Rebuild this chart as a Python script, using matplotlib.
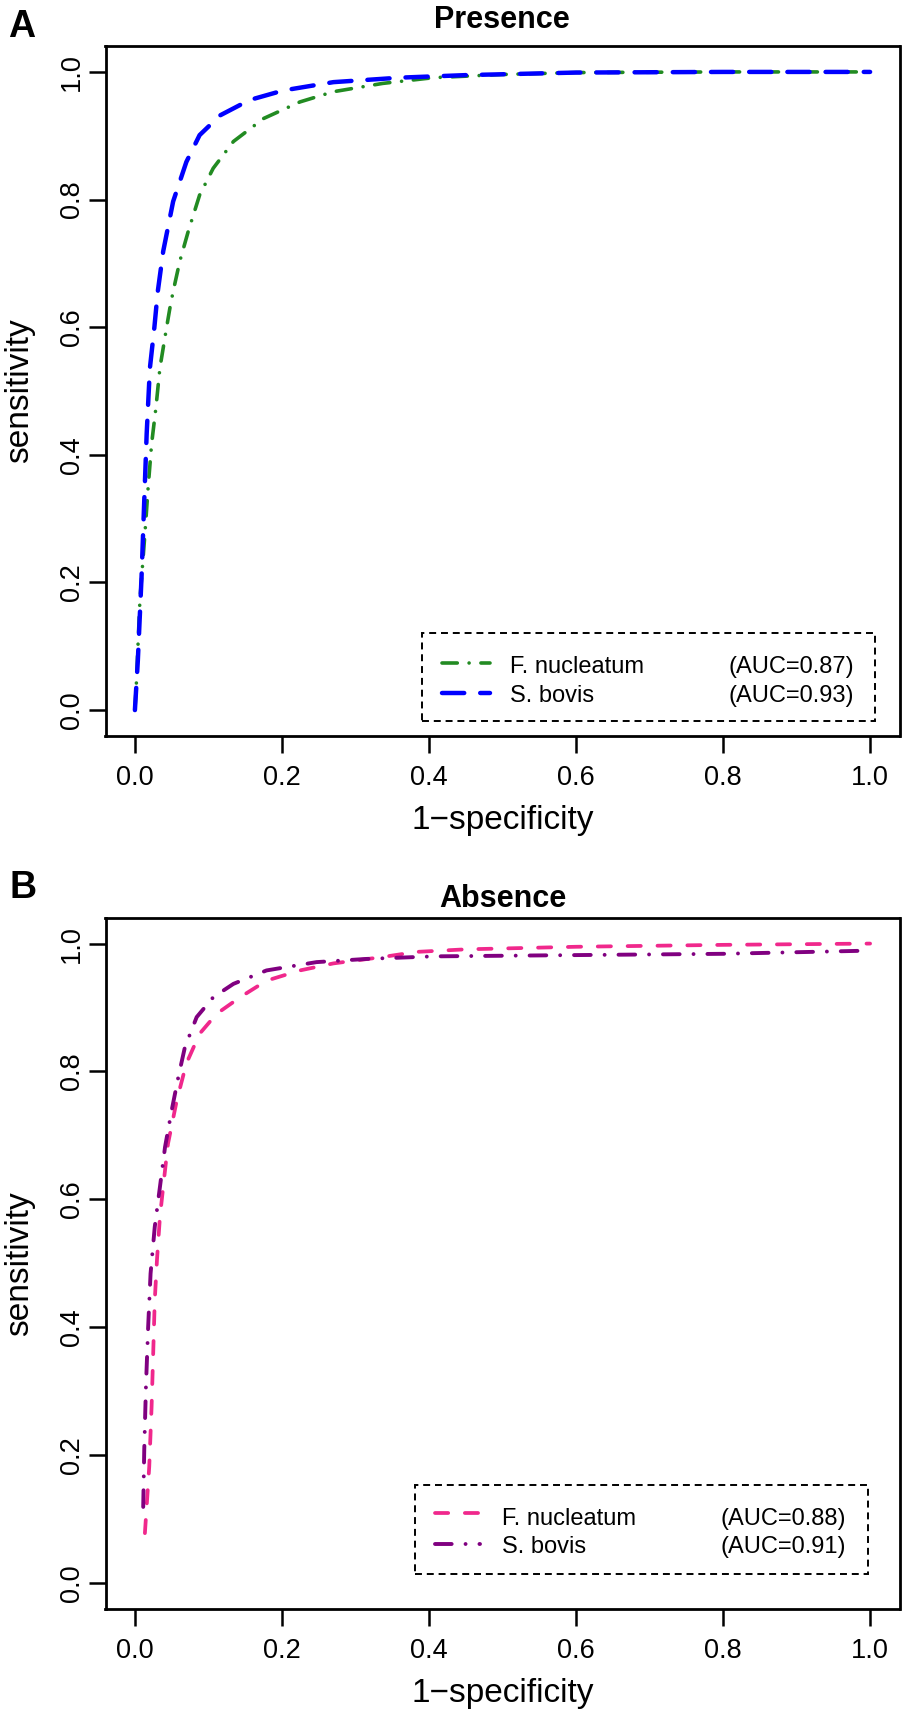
import matplotlib
matplotlib.use('Agg')
from matplotlib import pyplot as plt
from matplotlib.patches import Rectangle
from matplotlib.lines import Line2D

# presence panel
pres_fn_x = [0, 0.002, 0.0068, 0.0136, 0.018, 0.0227, 0.0286, 0.034, 0.043, 0.0476, 0.052, 0.061,
             0.0725, 0.088, 0.1065, 0.134, 0.175, 0.2245, 0.27, 0.337, 0.406, 0.5, 0.6, 0.8, 1.0]
pres_fn_y = [0, 0.042, 0.172, 0.276, 0.349, 0.417, 0.474, 0.536, 0.599, 0.63, 0.656, 0.703,
             0.75, 0.807, 0.849, 0.891, 0.927, 0.953, 0.969, 0.982, 0.991, 0.996, 0.999, 1.0, 1.0]
pres_sb_x = [0, 0.004, 0.009, 0.0127, 0.016, 0.0204, 0.0265, 0.031, 0.0385, 0.052, 0.070, 0.088,
             0.116, 0.156, 0.202, 0.27, 0.36, 0.45, 0.6, 0.8, 1.0]
pres_sb_y = [0, 0.078, 0.208, 0.328, 0.433, 0.536, 0.600, 0.655, 0.719, 0.797, 0.859, 0.901,
             0.932, 0.956, 0.971, 0.984, 0.991, 0.995, 0.999, 1.0, 1.0]

# absence panel
abs_fn_x = [0.0136, 0.0195, 0.0227, 0.025, 0.027, 0.030, 0.034, 0.0385, 0.045, 0.057, 0.070, 0.088,
            0.111, 0.143, 0.179, 0.2245, 0.27, 0.337, 0.383, 0.45, 0.6, 0.8, 1.0]
abs_fn_y = [0.078, 0.182, 0.276, 0.364, 0.442, 0.505, 0.572, 0.62, 0.687, 0.755, 0.8125, 0.859,
            0.89, 0.916, 0.942, 0.958, 0.969, 0.979, 0.987, 0.991, 0.995, 0.998, 1.0]
abs_sb_x = [0.0113, 0.0127, 0.015, 0.018, 0.0213, 0.027, 0.034, 0.041, 0.05, 0.059, 0.068, 0.084,
            0.1065, 0.134, 0.179, 0.247, 0.315, 0.406, 0.6, 0.8, 1.0]
abs_sb_y = [0.119, 0.208, 0.307, 0.40, 0.484, 0.557, 0.619, 0.682, 0.739, 0.791, 0.838, 0.885,
            0.916, 0.937, 0.958, 0.971, 0.976, 0.98, 0.982, 0.984, 0.989]

names = ['F. nucleatum', 'S. bovis']
pres_auc = [0.87, 0.93]
abs_auc = [0.88, 0.91]
ticks = [0.0, 0.2, 0.4, 0.6, 0.8, 1.0]
tick_labels = ['0.0', '0.2', '0.4', '0.6', '0.8', '1.0']

plt.rcParams['font.family'] = ['Liberation Sans', 'DejaVu Sans']
plt.rcParams['lines.scale_dashes'] = False

W, H = 902, 1709

# styles: (color, lw, dash pattern in pt)
st_green = ('#228B22', 2.6, (0, (11, 8.5, 0.01, 8.5)))
st_blue = ('#0000FF', 3.2, (0, (16, 11.5)))
st_pink = ('#F0288C', 2.7, (0, (9.5, 12)))
st_purple = ('#800080', 2.8, (0, (12, 10, 0.01, 10)))


def setup(ax):
    ax.set_xlim(-0.04, 1.04)
    ax.set_ylim(-0.04, 1.04)
    ax.set_xticks(ticks)
    ax.set_xticklabels(tick_labels, fontsize=19.5)
    ax.set_yticks(ticks)
    ax.set_yticklabels(tick_labels, fontsize=19.5, rotation=90, va='center')
    ax.tick_params(axis='x', length=12.5, width=1.8, pad=9)
    ax.tick_params(axis='y', length=12.5, width=1.8, pad=2)
    for s in ax.spines.values():
        s.set_linewidth(2.0)
    ax.set_xlabel('1\u2212specificity', fontsize=24)
    ax.set_ylabel('sensitivity', fontsize=24)
    ax.xaxis.set_label_coords(0.5, -0.101)
    ax.yaxis.set_label_coords(-0.0888, 0.5)


def curve(ax, x, y, st):
    c, lw, ls = st
    ax.plot(x, y, color=c, lw=lw, linestyle=ls, dash_capstyle='round')


def legend(ax, box, sample, rows, styles, aucs, tx, ax_auc):
    x0, y0, x1, y1 = box
    ax.add_patch(Rectangle((x0, y0), x1 - x0, y1 - y0, fill=False, ec='black', lw=1.4,
                           linestyle=(0, (5, 3.5)), clip_on=False))
    for (ly, by), st, name, auc in zip(rows, styles, names, aucs):
        c, lw, ls = st
        ax.add_line(Line2D(sample, [ly, ly], color=c, lw=lw, linestyle=ls,
                           dash_capstyle='round', clip_on=False))
        ax.text(tx, by, name, fontsize=17, va='baseline', ha='left')
        ax.text(ax_auc, by, '(AUC=%.2f)' % auc, fontsize=17, va='baseline', ha='left')


fig = plt.figure(figsize=(W / 100, H / 100), dpi=100)

axA = fig.add_axes([105.5 / W, 1 - 735.6 / H, 794 / W, 689.2 / H])
setup(axA)
curve(axA, pres_fn_x, pres_fn_y, st_green)
curve(axA, pres_sb_x, pres_sb_y, st_blue)
legend(axA, (0.390, -0.017, 1.007, 0.120), [0.418, 0.483],
       [(0.074, 0.058), (0.027, 0.0125)], [st_green, st_blue], pres_auc, 0.510, 0.807)

axB = fig.add_axes([105.5 / W, 1 - 1608.6 / H, 794 / W, 690.6 / H])
setup(axB)
curve(axB, abs_fn_x, abs_fn_y, st_pink)
curve(axB, abs_sb_x, abs_sb_y, st_purple)
legend(axB, (0.381, 0.014, 0.997, 0.153), [0.408, 0.469],
       [(0.109, 0.0906), (0.061, 0.047)], [st_pink, st_purple], abs_auc, 0.499, 0.797)

fig.text(502 / W, 1 - 28 / H, 'Presence', fontsize=22, fontweight='bold', ha='center', va='baseline')
fig.text(503 / W, 1 - 907 / H, 'Absence', fontsize=22, fontweight='bold', ha='center', va='baseline')
fig.text(21.5 / W, 1 - 37 / H, 'A', fontsize=27, fontweight='bold', ha='center', va='baseline')
fig.text(23.5 / W, 1 - 898 / H, 'B', fontsize=27, fontweight='bold', ha='center', va='baseline')

plt.savefig('out.png', dpi=100)
